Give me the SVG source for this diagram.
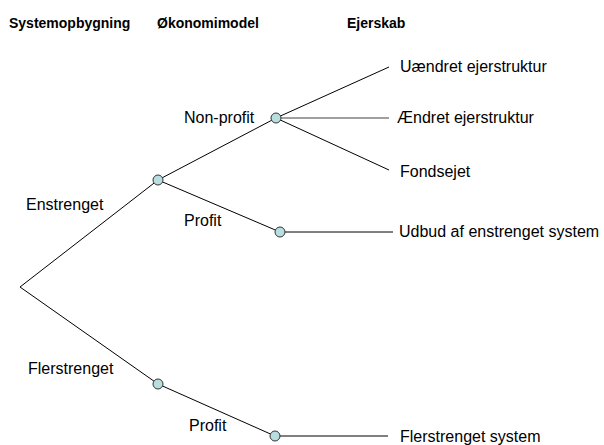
<svg xmlns="http://www.w3.org/2000/svg" width="604" height="445" viewBox="0 0 604 445">
<style>
.h{font-family:"Liberation Sans",Arial,sans-serif;font-size:14px;font-weight:bold;fill:#000}
.t{font-family:"Liberation Sans",Arial,sans-serif;font-size:16px;fill:#000}
.ln{stroke:#000;stroke-width:1;fill:none}
.gr{stroke:#808080;stroke-width:1.5;fill:none}
.nd{fill:#B8DEDF;stroke:#333;stroke-width:1}
</style>
<rect width="604" height="445" fill="#fff"/>
<g id="headers">
<text class="h" x="9" y="28">Systemopbygning</text>
<text class="h" x="157" y="28">Økonomimodel</text>
<text class="h" x="347" y="28">Ejerskab</text>
</g>
<g id="connectors">
<polyline class="ln" points="158,180 20,287 158,384"/>
<line class="ln" x1="158" y1="180" x2="276" y2="118"/>
<line class="ln" x1="158" y1="180" x2="280" y2="232"/>
<line class="ln" x1="158" y1="384" x2="275" y2="436"/>
<line class="ln" x1="276" y1="118" x2="389" y2="67"/>
<line class="gr" x1="276" y1="118" x2="389" y2="118"/>
<line class="ln" x1="276" y1="118" x2="389" y2="170"/>
<line class="ln" x1="280" y1="232" x2="393" y2="232"/>
<line class="ln" x1="275" y1="436" x2="388" y2="436"/>
</g>
<g id="root"><text class="t" x="26" y="210">Enstrenget</text></g>
<g id="enstrenget"><circle class="nd" cx="158" cy="180" r="5"/></g>
<g id="flerstrenget"><circle class="nd" cx="158" cy="384" r="5"/><text class="t" x="28" y="374">Flerstrenget</text></g>
<g id="nonprofit"><circle class="nd" cx="276" cy="118" r="5"/><text class="t" x="184" y="123">Non-profit</text></g>
<g id="profit1"><circle class="nd" cx="280" cy="232" r="5"/><text class="t" x="184" y="226">Profit</text></g>
<g id="profit2"><circle class="nd" cx="275" cy="436" r="5"/><text class="t" x="189" y="431">Profit</text></g>
<g id="leaf1"><text class="t" x="400" y="72">Uændret ejerstruktur</text></g>
<g id="leaf2"><text class="t" x="397" y="123">Ændret ejerstruktur</text></g>
<g id="leaf3"><text class="t" x="400" y="177">Fondsejet</text></g>
<g id="leaf4"><text class="t" x="399" y="237">Udbud af enstrenget system</text></g>
<g id="leaf5"><text class="t" x="400" y="442">Flerstrenget system</text></g>
</svg>
